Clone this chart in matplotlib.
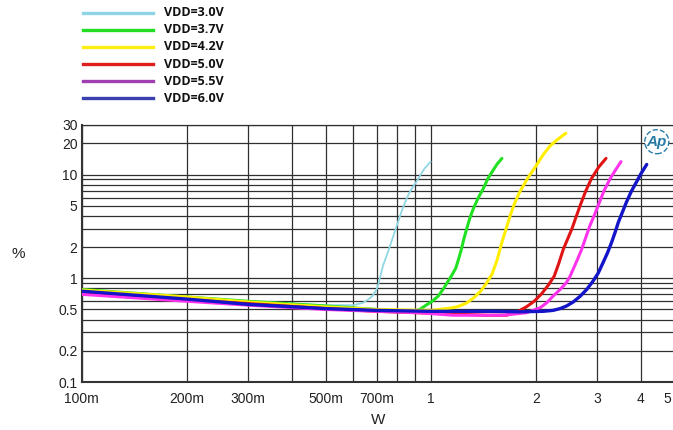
import matplotlib
matplotlib.use('Agg')
import matplotlib.pyplot as plt
from matplotlib.lines import Line2D
from matplotlib.ticker import FixedLocator, FixedFormatter, NullFormatter

# THD+N vs output power, one curve per supply voltage
vdd_labels = ['VDD=3.0V', 'VDD=3.7V', 'VDD=4.2V', 'VDD=5.0V', 'VDD=5.5V', 'VDD=6.0V']

cyan_x = [0.1, 0.15, 0.2, 0.3, 0.4, 0.5, 0.6, 0.64, 0.66, 0.68, 0.70, 0.71, 0.73, 0.75, 0.765, 0.80,
          0.825, 0.853, 0.88, 0.91, 0.94, 0.96, 1.0]
cyan_y = [0.76, 0.70, 0.66, 0.60, 0.57, 0.55, 0.55, 0.58, 0.62, 0.67, 0.78, 0.91, 1.32, 1.7, 2.06, 3.22,
          4.4, 5.85, 7.2, 8.5, 10.2, 11.4, 13.3]

green_x = [0.1, 0.2, 0.3, 0.5, 0.7, 0.89, 0.93, 0.97, 1.01, 1.05, 1.09, 1.12, 1.15, 1.18, 1.20, 1.225,
           1.245, 1.268, 1.295, 1.325, 1.37, 1.415, 1.46, 1.51, 1.55, 1.60]
green_y = [0.78, 0.66, 0.60, 0.54, 0.50, 0.48, 0.50, 0.55, 0.60, 0.67, 0.80, 0.93, 1.07, 1.25, 1.5, 1.91,
           2.4, 2.99, 3.8, 4.68, 6.0, 7.31, 9.2, 11.0, 12.6, 14.3]

yellow_x = [0.1, 0.2, 0.3, 0.5, 0.7, 1.0, 1.16, 1.21, 1.27, 1.33, 1.39, 1.44, 1.50, 1.55, 1.60, 1.645,
            1.69, 1.74, 1.8, 1.9, 2.01, 2.1, 2.2, 2.3, 2.44]
yellow_y = [0.77, 0.66, 0.59, 0.53, 0.50, 0.49, 0.52, 0.54, 0.58, 0.65, 0.75, 0.88, 1.1, 1.5, 2.22, 3.0,
            4.03, 5.3, 6.8, 9.3, 12.3, 15.5, 18.9, 21.5, 25.0]

red_x = [0.1, 0.2, 0.3, 0.5, 0.7, 1.0, 1.45, 1.65, 1.76, 1.88, 1.98, 2.08, 2.18, 2.26, 2.33, 2.40, 2.47,
         2.54, 2.61, 2.68, 2.78, 2.89, 3.03, 3.18]
red_y = [0.73, 0.62, 0.57, 0.51, 0.48, 0.46, 0.44, 0.44, 0.47, 0.53, 0.60, 0.71, 0.87, 1.05, 1.4, 1.91, 2.4,
         3.0, 3.9, 5.0, 6.9, 9.15, 11.8, 14.3]

magenta_x = [0.1, 0.2, 0.3, 0.5, 0.7, 0.93, 1.16, 1.61, 1.88, 2.06, 2.15, 2.24, 2.35, 2.45, 2.51, 2.56,
             2.63, 2.71, 2.78, 2.86, 2.94, 3.02, 3.14, 3.27, 3.4, 3.51]
magenta_y = [0.70, 0.60, 0.55, 0.50, 0.48, 0.465, 0.44, 0.44, 0.465, 0.52, 0.58, 0.67, 0.78, 0.91, 1.05, 1.22,
             1.5, 1.91, 2.45, 3.22, 4.0, 5.03, 7.0, 9.15, 11.3, 13.3]

blue_x = [0.1, 0.2, 0.3, 0.5, 0.7, 1.0, 1.5, 1.8, 2.1, 2.24, 2.35, 2.45, 2.56, 2.68, 2.8, 2.92, 3.02, 3.12,
          3.21, 3.30, 3.38, 3.45, 3.54, 3.64, 3.76, 3.89, 4.02, 4.16]
blue_y = [0.75, 0.63, 0.56, 0.51, 0.49, 0.48, 0.48, 0.475, 0.48, 0.49, 0.51, 0.54, 0.59, 0.67, 0.78, 0.94,
          1.12, 1.42, 1.75, 2.22, 2.8, 3.47, 4.3, 5.43, 6.9, 8.5, 10.4, 12.5]

x_major = [0.1, 0.2, 0.3, 0.5, 0.7, 1, 2, 3, 4, 5]
x_major_labels = ['100m', '200m', '300m', '500m', '700m', '1', '2', '3', '4', '5']
x_minor = [0.4, 0.6, 0.8, 0.9]
y_major = [0.1, 0.2, 0.5, 1, 2, 5, 10, 20, 30]
y_major_labels = ['0.1', '0.2', '0.5', '1', '2', '5', '10', '20', '30']
y_minor = [0.3, 0.4, 0.6, 0.7, 0.8, 0.9, 3, 4, 6, 7, 8, 9]

curves = [(cyan_x, cyan_y), (green_x, green_y), (yellow_x, yellow_y),
          (red_x, red_y), (magenta_x, magenta_y), (blue_x, blue_y)]
curve_colors = ['#8fd8e2', '#22e022', '#ffee00', '#e01414', '#ff33ee', '#1414c8']
curve_widths = [1.3, 2.2, 2.2, 2.2, 2.2, 2.4]
legend_colors = ['#8ed4e4', '#22dd22', '#ffee11', '#e02020', '#a040b0', '#3a40b0']

plt.rcParams['font.family'] = ['Liberation Sans', 'DejaVu Sans']

fig = plt.figure(figsize=(6.73, 4.30), dpi=100)
ax = fig.add_axes([81.7 / 673, 48 / 430, (674.6 - 81.7) / 673, 257 / 430])

for (xs, ys), c, lw in zip(curves, curve_colors, curve_widths):
    ax.plot(xs, ys, color=c, lw=lw, solid_capstyle='round', solid_joinstyle='round', zorder=3)

ax.set_xscale('log')
ax.set_yscale('log')
ax.set_xlim(0.1, 5)
ax.set_ylim(0.1, 30)

# last x label ("5") sits at the image edge, drawn separately below
ax.xaxis.set_major_locator(FixedLocator(x_major))
ax.xaxis.set_major_formatter(FixedFormatter(x_major_labels[:-1] + ['']))
ax.xaxis.set_minor_locator(FixedLocator(x_minor))
ax.xaxis.set_minor_formatter(NullFormatter())
ax.yaxis.set_major_locator(FixedLocator(y_major))
ax.yaxis.set_major_formatter(FixedFormatter(y_major_labels))
ax.yaxis.set_minor_locator(FixedLocator(y_minor))
ax.yaxis.set_minor_formatter(NullFormatter())

ax.grid(True, which='both', color='#303030', lw=0.9, zorder=1)
ax.set_axisbelow(True)
ax.tick_params(which='both', length=0, labelsize=10, colors='#222222')
ax.tick_params(axis='x', pad=7)
ax.tick_params(axis='y', pad=3)
ax.annotate(x_major_labels[-1], xy=(x_major[-1], 0.1), xycoords='data',
            xytext=(-2.5, -7), textcoords='offset points', ha='right', va='top',
            fontsize=10, color='#222222', annotation_clip=False)

for s in ['left', 'bottom']:
    ax.spines[s].set_linewidth(1.5)
    ax.spines[s].set_color('#333333')
ax.spines['top'].set_linewidth(0.9)
ax.spines['top'].set_color('#303030')
ax.spines['right'].set_visible(False)

ax.set_xlabel('W', fontsize=11, color='#222222')
ax.xaxis.set_label_coords(0.5, -0.12)
ax.set_ylabel('%', rotation=0, fontsize=11, color='#222222', va='center')
ax.yaxis.set_label_coords(-0.107, 0.5)

# Ap logo
ax.text(0.97, 0.935, 'Ap', transform=ax.transAxes, ha='center', va='center',
        fontsize=11, fontstyle='italic', fontweight='bold', color='#2a7ca8',
        bbox=dict(boxstyle='circle,pad=0.12', fc='white', ec='#2a7ca8', ls='--', lw=1.0),
        zorder=5)

# legend drawn at top left of the figure
for i, (label, c) in enumerate(zip(vdd_labels, legend_colors)):
    y = 1 - (12.7 + 17.1 * i) / 430
    fig.add_artist(Line2D([83 / 673, 153 / 673], [y, y], color=c, lw=2.4,
                          transform=fig.transFigure))
    fig.text(163.5 / 673, y, label, fontsize=9, fontweight='bold',
             family=['Open Sans', 'DejaVu Sans'], va='center', ha='left', color='#111111')

fig.savefig('out.png', dpi=100)
